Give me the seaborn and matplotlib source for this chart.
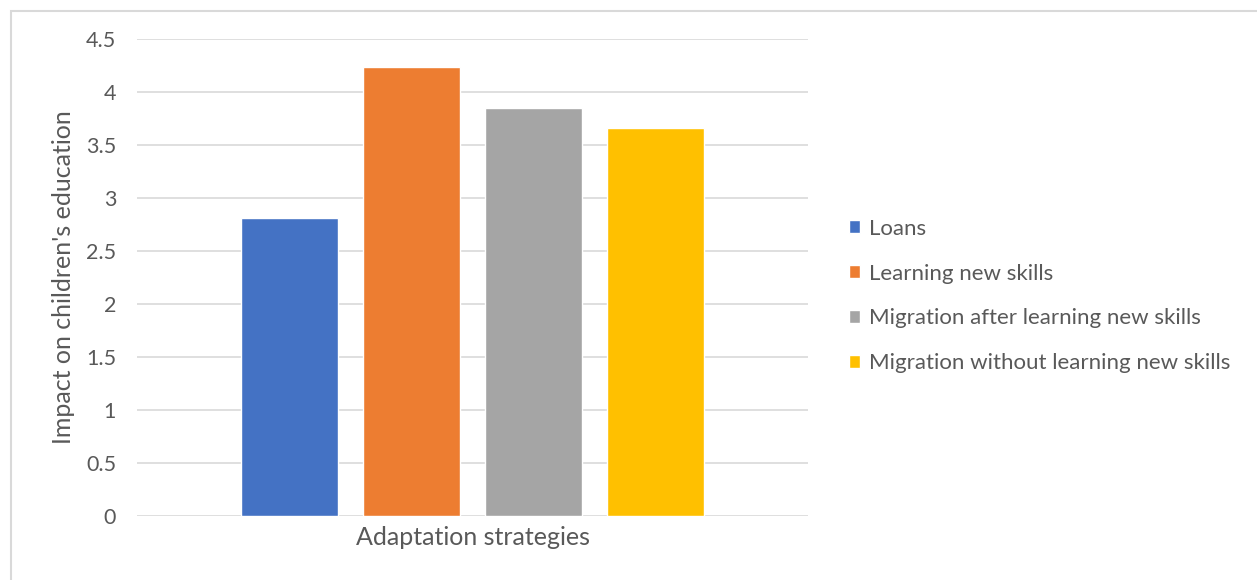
import matplotlib
matplotlib.use("Agg")
import matplotlib.pyplot as plt
from matplotlib.patches import Rectangle
import seaborn as sns
import pandas as pd

# Chart data
group_label = "Adaptation strategies"
strategies = [
    "Loans",
    "Learning new skills",
    "Migration after learning new skills",
    "Migration without learning new skills",
]
impact = [2.81, 4.24, 3.85, 3.66]
colors = ["#4472C4", "#ED7D31", "#A5A5A5", "#FFC000"]
y_ticks = [0, 0.5, 1, 1.5, 2, 2.5, 3, 3.5, 4, 4.5]

sns.set_theme(style="white")
plt.rcParams["font.family"] = ["Lato", "DejaVu Sans"]

text_color = "#595959"
grid_color = "#D9D9D9"
tick_fs = 15.5
title_fs = 18
legend_fs = 16

df = pd.DataFrame({
    "group": [group_label] * len(strategies),
    "strategy": strategies,
    "impact": impact,
})

fig = plt.figure(figsize=(12.57, 5.80), dpi=100)
ax = fig.add_axes([137 / 1257, 1 - 516 / 580, (808 - 137) / 1257, (516 - 39) / 580])

sns.barplot(
    data=df, x="group", y="impact", hue="strategy", hue_order=strategies,
    palette=colors, saturation=1, width=0.727, gap=0.21,
    errorbar=None, ax=ax,
)

ax.set_xlim(-0.5, 0.5)
ax.set_ylim(0, 4.5)
ax.set_yticks(y_ticks)
ax.set_yticklabels([f"{t:g}" for t in y_ticks])
ax.yaxis.grid(True, color=grid_color, linewidth=1.2)
ax.set_axisbelow(True)
for s in ax.spines.values():
    s.set_visible(False)
ax.tick_params(axis="both", length=0, colors=text_color)
ax.tick_params(axis="y", pad=15, labelsize=tick_fs)
ax.tick_params(axis="x", pad=7, labelsize=title_fs)
ax.set_xlabel("")
ax.set_ylabel("Impact on children's education", fontsize=title_fs, color=text_color, labelpad=8)

handles, labels = ax.get_legend_handles_labels()
if ax.get_legend() is not None:
    ax.get_legend().remove()
fig.legend(
    handles, labels, loc="center left", bbox_to_anchor=(829 / 1257, 1 - 296 / 580),
    frameon=False, fontsize=legend_fs, labelcolor=text_color,
    handlelength=0.5, handleheight=0.5, handletextpad=0.4, labelspacing=1.12,
)

# Outer chart frame
fig.patches.append(Rectangle(
    (10.5 / 1257, -0.05), 1.1, 1 - 10.5 / 580 + 0.05,
    transform=fig.transFigure, fill=False, edgecolor=grid_color, linewidth=1.5,
))

fig.savefig("out.png", dpi=100)
